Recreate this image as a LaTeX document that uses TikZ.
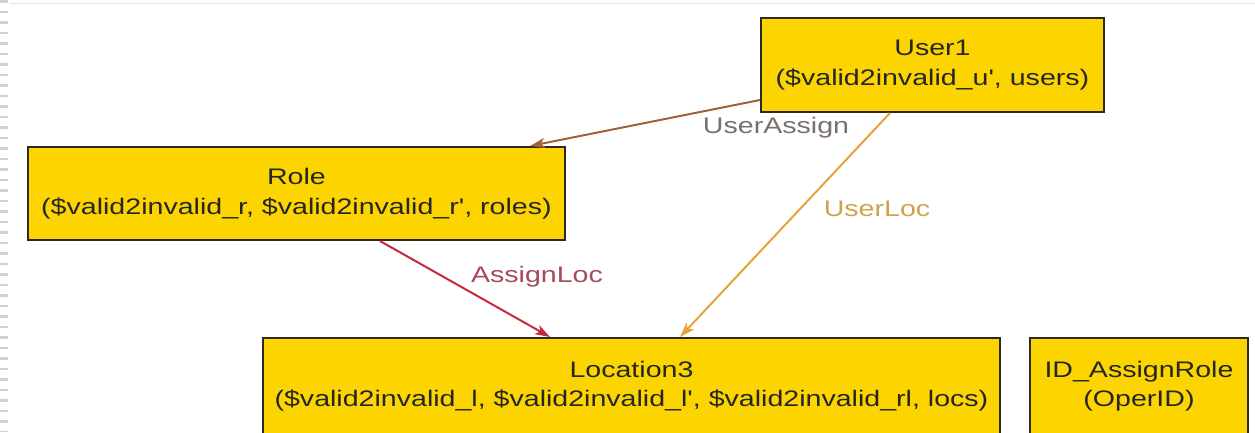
\documentclass[tikz,border=0pt]{standalone}
\usepackage{fontspec}
\setmainfont{Liberation Sans}[FakeStretch=1.27, Ligatures=TeXOff]
\usetikzlibrary{arrows.meta}
\definecolor{boxfill}{HTML}{FCD500}
\definecolor{boxline}{HTML}{2E2A22}
\definecolor{uacol}{HTML}{A0623C}
\definecolor{ualab}{HTML}{7A706C}
\definecolor{ulcol}{HTML}{E8A23C}
\definecolor{ullab}{HTML}{CFA448}
\definecolor{alcol}{HTML}{C62A3E}
\definecolor{allab}{HTML}{A84A5C}
\tikzset{
  entity/.style={draw=boxline, line width=2pt, fill=boxfill, inner sep=0pt,
    align=center, font=\fontsize{22.5}{29.5}\selectfont, text=black!85},
  rel/.style={line width=2pt, -{Stealth[length=15pt,width=10pt,inset=4pt]}},
  rellabel/.style={font=\fontsize{22.5}{27}\selectfont, inner sep=0pt}
}
\begin{document}
\begin{tikzpicture}[x=1pt,y=-1pt]
\useasboundingbox (0,0) rectangle (1255,432);
\clip (0,0) rectangle (1255,432);
\fill[white] (0,0) rectangle (1255,432);
% slide decorations
\draw[black!18, line width=8pt, dash pattern=on 2.5pt off 8pt] (4,0) -- (4,432);
\draw[black!10, line width=1pt] (10,3) -- (1255,3);
% nodes
\node[entity, minimum width=343pt, minimum height=94pt] (u) at (932.5,65)
  {User1\\(\$valid2invalid\_u', users)};
\node[entity, minimum width=537pt, minimum height=93pt] (r) at (296.5,193.5)
  {Role\\(\$valid2invalid\_r, \$valid2invalid\_r', roles)};
\node[entity, minimum width=737pt, minimum height=96pt] (l) at (631.5,386)
  {Location3\\(\$valid2invalid\_l, \$valid2invalid\_l', \$valid2invalid\_rl, locs)};
\node[entity, minimum width=218pt, minimum height=96pt] (id) at (1139,386)
  {ID\_AssignRole\\(OperID)};
% connectors
\draw[rel, uacol] ([yshift=-35pt]u.west) -- ([xshift=233.5pt]r.north);
\draw[rel, ulcol] ([xshift=-42.5pt]u.south) -- ([xshift=48.5pt]l.north);
\draw[rel, alcol] ([xshift=83.5pt]r.south) -- ([xshift=-81.5pt]l.north);
% labels
\node[rellabel, text=ualab] (lua) at (776,128) {UserAssign};
\node[rellabel, text=ullab] (lul) at (877,209) {UserLoc};
\node[rellabel, text=allab] (lal) at (537,277) {AssignLoc};
\end{tikzpicture}
\end{document}
